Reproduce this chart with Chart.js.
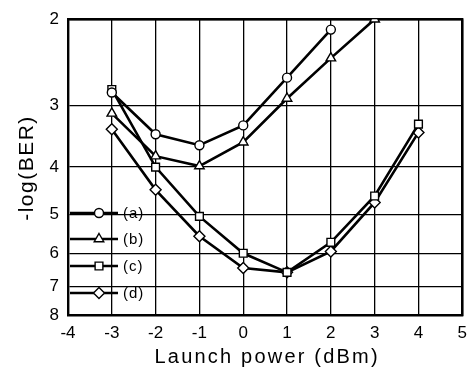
<!DOCTYPE html>
<html>
<head>
<meta charset="utf-8">
<script src="https://cdn.jsdelivr.net/npm/chart.js@4"></script>
<style>
  html, body { margin: 0; padding: 0; background: #fff; }
  #wrap { width: 475px; height: 371px; }
</style>
</head>
<body>
<div id="wrap"><canvas id="c" width="475" height="371"></canvas></div>
<script>
// ---- data ----
const xTicks = [-4, -3, -2, -1, 0, 1, 2, 3, 4, 5];
const yTicks = [2, 3, 4, 5, 6, 7, 8];
const seriesLabels = ['(a)', '(b)', '(c)', '(d)'];
const xA = [-3, -2, -1, 0, 1, 2];
const yA = [2.82, 3.43, 3.61, 3.29, 2.63, 2.10];
const xB = [-3, -2, -1, 0, 1, 2, 3];
const yB = [3.11, 3.80, 3.98, 3.56, 2.90, 2.40, 2.0];
const xC = [-3, -2, -1, 0, 1, 2, 3, 4];
const yC = [2.78, 4.00, 5.04, 5.99, 6.55, 5.69, 4.58, 3.27];
const xD = [-3, -2, -1, 0, 1, 2, 3, 4];
const yD = [3.35, 4.45, 5.53, 6.42, 6.55, 5.94, 4.72, 3.40];

const pts = (xs, ys) => xs.map((x, i) => ({x: x, y: ys[i]}));
const styles = ['circle', 'triangle', 'rect', 'rectRot'];
const radii = [4.5, 5.5, 5.5, 5.5];
const allX = [xA, xB, xC, xD];
const allY = [yA, yB, yC, yD];

const datasets = seriesLabels.map((lab, i) => ({
  label: lab,
  data: pts(allX[i], allY[i]),
  borderColor: '#000',
  borderWidth: 2.6,
  backgroundColor: '#fff',
  pointStyle: styles[i],
  pointRadius: radii[i],
  pointBorderWidth: 1.4,
  pointBackgroundColor: '#fff',
  pointBorderColor: '#000',
  tension: 0
}));

const FONT = '"Liberation Sans", Arial, Helvetica, sans-serif';

const legendPlugin = {
  id: 'inlineLegend',
  afterDatasetsDraw(chart) {
    const ctx = chart.ctx;
    const ca = chart.chartArea;
    const x0 = ca.left + 2, x1 = ca.left + 50, xm = ca.left + 31;
    const rows = [213, 239, 266, 293];
    ctx.save();
    chart.data.datasets.forEach((ds, i) => {
      const y = rows[i];
      ctx.beginPath();
      ctx.strokeStyle = '#000';
      ctx.lineWidth = 2.6;
      ctx.moveTo(x0, y);
      ctx.lineTo(x1, y);
      ctx.stroke();
      ctx.fillStyle = '#fff';
      ctx.strokeStyle = '#000';
      ctx.lineWidth = 1.4;
      Chart.helpers.drawPoint(ctx, {pointStyle: ds.pointStyle, radius: ds.pointRadius, borderWidth: 1.4, rotation: 0}, xm, y);
      ctx.fillStyle = '#000';
      ctx.font = '15px ' + FONT;
      ctx.textBaseline = 'middle';
      ctx.textAlign = 'left';
      ctx.letterSpacing = '1px';
      ctx.fillText(ds.label, x1 + 5, y + 1);
    });
    ctx.restore();
  }
};

const titlePlugin = {
  id: 'axisTitles',
  afterDraw(chart) {
    const ctx = chart.ctx;
    const ca = chart.chartArea;
    ctx.save();
    ctx.fillStyle = '#000';
    ctx.font = '20px ' + FONT;
    ctx.letterSpacing = '2.2px';
    ctx.textAlign = 'center';
    ctx.textBaseline = 'middle';
    ctx.fillText('Launch power (dBm)', (ca.left + ca.right) / 2 + 2, 357);
    ctx.translate(27, 168);
    ctx.rotate(-Math.PI / 2);
    ctx.letterSpacing = '1.5px';
    ctx.font = '21px ' + FONT;
    ctx.fillText('-log(BER)', 0, 0);
    ctx.restore();
  }
};

new Chart(document.getElementById('c'), {
  type: 'line',
  data: { datasets: datasets },
  options: {
    responsive: false,
    animation: false,
    devicePixelRatio: 1,
    layout: { padding: { top: 17, right: 5, left: 0, bottom: 0 } },
    plugins: { legend: { display: false }, tooltip: { enabled: false } },
    scales: {
      x: {
        type: 'linear',
        min: -4, max: 5,
        afterBuildTicks: s => { s.ticks = xTicks.map(v => ({value: v})); },
        afterFit: s => { s.height = 56; },
        grid: { color: '#000', lineWidth: 1.3, drawTicks: false },
        border: { color: '#000', width: 2.4 },
        ticks: { color: '#000', padding: 8, font: { family: FONT, size: 17 }, callback: v => String(v) }
      },
      y: {
        type: 'logarithmic',
        reverse: true,
        min: 2, max: 8,
        afterBuildTicks: s => { s.ticks = yTicks.map(v => ({value: v})); },
        afterFit: s => { s.width = 68; },
        grid: { color: '#000', lineWidth: 1.3, drawTicks: false },
        border: { color: '#000', width: 2.4 },
        ticks: { color: '#000', padding: 9, font: { family: FONT, size: 17 }, callback: v => String(v) }
      },
      x2: {
        type: 'linear', position: 'top', min: -4, max: 5,
        grid: { display: false, drawTicks: false }, ticks: { display: false },
        border: { color: '#000', width: 2.4 }, afterFit: s => { s.height = 0; }
      },
      y2: {
        type: 'linear', position: 'right', min: 0, max: 1,
        grid: { display: false, drawTicks: false }, ticks: { display: false },
        border: { color: '#000', width: 2.4 }, afterFit: s => { s.width = 0; }
      }
    }
  },
  plugins: [legendPlugin, titlePlugin]
});
</script>
</body>
</html>
